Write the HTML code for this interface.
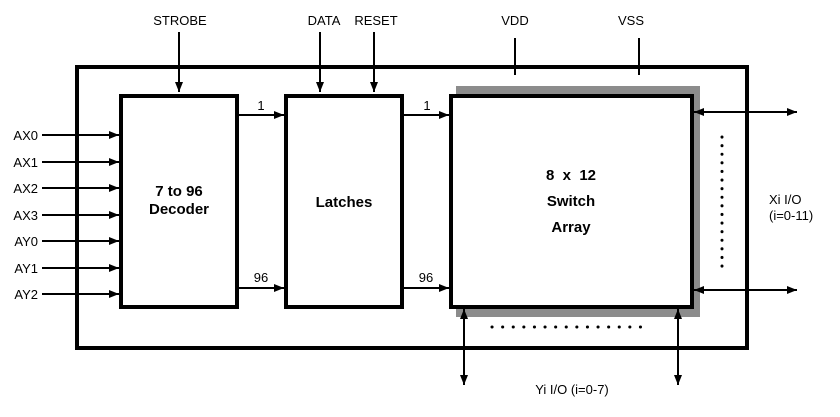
<!DOCTYPE html>
<html><head><style>
body{margin:0;background:#fff;}
svg text{font-family:"Liberation Sans",Arial,sans-serif;fill:#000;}
</style></head><body>
<svg width="840" height="412" viewBox="0 0 840 412" xmlns="http://www.w3.org/2000/svg">
<defs>
<marker id="a" markerWidth="10" markerHeight="8" refX="10" refY="4" orient="auto-start-reverse" markerUnits="userSpaceOnUse">
<path d="M0,0 L10,4 L0,8 Z" fill="#000"/></marker>
</defs>
<rect x="77" y="67" width="670" height="281" fill="none" stroke="#000" stroke-width="4"/>
<rect x="456" y="86" width="244" height="231" fill="#8c8c8c"/>
<rect x="121" y="96" width="116" height="211" fill="#fff" stroke="#000" stroke-width="4"/>
<rect x="286" y="96" width="116" height="211" fill="#fff" stroke="#000" stroke-width="4"/>
<rect x="451" y="96" width="241" height="211" fill="#fff" stroke="#000" stroke-width="4"/>
<g stroke="#000" stroke-width="2" fill="none">
<line x1="179" y1="32" x2="179" y2="92" marker-end="url(#a)"/>
<line x1="320" y1="32" x2="320" y2="92" marker-end="url(#a)"/>
<line x1="374" y1="32" x2="374" y2="92" marker-end="url(#a)"/>
<line x1="515" y1="38" x2="515" y2="75"/>
<line x1="639" y1="38" x2="639" y2="75"/>
<line x1="42" y1="135" x2="119" y2="135" marker-end="url(#a)"/>
<line x1="42" y1="162" x2="119" y2="162" marker-end="url(#a)"/>
<line x1="42" y1="188" x2="119" y2="188" marker-end="url(#a)"/>
<line x1="42" y1="215" x2="119" y2="215" marker-end="url(#a)"/>
<line x1="42" y1="241" x2="119" y2="241" marker-end="url(#a)"/>
<line x1="42" y1="268" x2="119" y2="268" marker-end="url(#a)"/>
<line x1="42" y1="294" x2="119" y2="294" marker-end="url(#a)"/>
<line x1="239" y1="115" x2="284" y2="115" marker-end="url(#a)"/>
<line x1="239" y1="288" x2="284" y2="288" marker-end="url(#a)"/>
<line x1="404" y1="115" x2="449" y2="115" marker-end="url(#a)"/>
<line x1="404" y1="288" x2="449" y2="288" marker-end="url(#a)"/>
<line x1="694" y1="112" x2="797" y2="112" marker-start="url(#a)" marker-end="url(#a)"/>
<line x1="694" y1="290" x2="797" y2="290" marker-start="url(#a)" marker-end="url(#a)"/>
<line x1="464" y1="309" x2="464" y2="385" marker-start="url(#a)" marker-end="url(#a)"/>
<line x1="678" y1="309" x2="678" y2="385" marker-start="url(#a)" marker-end="url(#a)"/>
<line x1="722" y1="137" x2="722" y2="267" stroke-width="3" stroke-dasharray="0.1 8.5" stroke-linecap="round"/>
<line x1="492" y1="327" x2="650" y2="327" stroke-width="3" stroke-dasharray="0.1 10.5" stroke-linecap="round"/>
</g>
<g font-size="13">
<text x="180" y="25" text-anchor="middle">STROBE</text>
<text x="324" y="25" text-anchor="middle">DATA</text>
<text x="376" y="25" text-anchor="middle">RESET</text>
<text x="515" y="25" text-anchor="middle">VDD</text>
<text x="631" y="25" text-anchor="middle">VSS</text>
<text x="38" y="140" text-anchor="end">AX0</text>
<text x="38" y="167" text-anchor="end">AX1</text>
<text x="38" y="193" text-anchor="end">AX2</text>
<text x="38" y="220" text-anchor="end">AX3</text>
<text x="38" y="246" text-anchor="end">AY0</text>
<text x="38" y="273" text-anchor="end">AY1</text>
<text x="38" y="299" text-anchor="end">AY2</text>
<text x="261" y="110" text-anchor="middle">1</text>
<text x="261" y="282" text-anchor="middle">96</text>
<text x="427" y="110" text-anchor="middle">1</text>
<text x="426" y="282" text-anchor="middle">96</text>
<text x="769" y="204">Xi I/O</text>
<text x="769" y="220">(i=0-11)</text>
<text x="572" y="394" text-anchor="middle">Yi I/O (i=0-7)</text>
</g>
<g font-size="15" font-weight="bold" text-anchor="middle">
<text x="179" y="196">7 to 96</text>
<text x="179" y="214">Decoder</text>
<text x="344" y="207">Latches</text>
<text x="571" y="180">8&#160;&#160;x&#160;&#160;12</text>
<text x="571" y="206">Switch</text>
<text x="571" y="232">Array</text>
</g>
</svg>
</body></html>
